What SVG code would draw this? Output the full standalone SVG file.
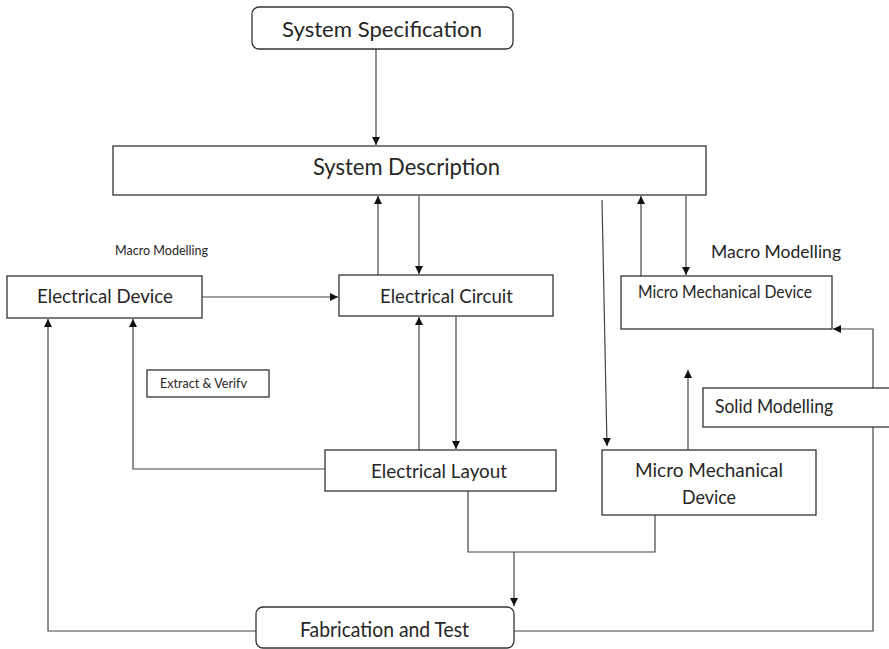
<svg xmlns="http://www.w3.org/2000/svg" width="889" height="649" viewBox="0 0 889 649">
<defs>
<marker id="ah" markerUnits="userSpaceOnUse" markerWidth="9" markerHeight="9" refX="8" refY="4" orient="auto">
<path d="M0,0 L8,4 L0,8 z" fill="#111"/>
</marker>
<style>
.box{fill:#fff;stroke:#333;stroke-width:1.3}
.ln{fill:none;stroke:#444;stroke-width:1.2}
.ar{fill:none;stroke:#444;stroke-width:1.2;marker-end:url(#ah)}
text{font-family:Lato,"Liberation Sans",sans-serif;fill:#262626}
</style>
</defs>
<rect x="0" y="0" width="889" height="649" fill="#fff"/>
<g id="connectors">
<path class="ar" d="M376,49 V145"/>
<path class="ar" d="M378,275 V196"/>
<path class="ar" d="M419,196 V274"/>
<path class="ar" d="M602,200 L607,446"/>
<path class="ar" d="M641,276 V196"/>
<path class="ar" d="M686,196 V275"/>
<path class="ar" d="M202,297 H338"/>
<path class="ar" d="M419,450 V317"/>
<path class="ar" d="M456,317 V449"/>
<path class="ar" d="M688,450 V370"/>
<path class="ar" d="M325,469 H133 V319"/>
<path class="ar" d="M256,631 H48 V319"/>
<path class="ar" d="M514,631 H873 V329 H833"/>
<path class="ln" d="M468,491 V552 H655 V515"/>
<path class="ar" d="M514,552 V606"/>
</g>
<g id="system-specification">
<rect class="box" x="252" y="7" width="261" height="42" rx="7"/>
<text x="282" y="37" font-size="22" textLength="200" lengthAdjust="spacingAndGlyphs">System Specification</text>
</g>
<g id="system-description">
<rect class="box" x="113" y="146" width="593" height="49"/>
<text x="313" y="175" font-size="24" textLength="187" lengthAdjust="spacingAndGlyphs">System Description</text>
</g>
<g id="macro-modelling-left">
<text x="115" y="255" font-size="12.5" textLength="93" lengthAdjust="spacingAndGlyphs">Macro Modelling</text>
</g>
<g id="electrical-device">
<rect class="box" x="7" y="276" width="195" height="42"/>
<text x="37" y="303" font-size="20" textLength="136" lengthAdjust="spacingAndGlyphs">Electrical Device</text>
</g>
<g id="electrical-circuit">
<rect class="box" x="339" y="275" width="214" height="41"/>
<text x="380" y="303" font-size="20" textLength="133" lengthAdjust="spacingAndGlyphs">Electrical Circuit</text>
</g>
<g id="macro-modelling-right">
<text x="711" y="258" font-size="17.5" textLength="130" lengthAdjust="spacingAndGlyphs">Macro Modelling</text>
</g>
<g id="micro-mechanical-device-upper">
<rect class="box" x="621" y="276" width="211" height="53"/>
<text x="638" y="298" font-size="17" textLength="174" lengthAdjust="spacingAndGlyphs">Micro Mechanical Device</text>
</g>
<g id="extract-verify">
<rect class="box" x="147" y="370" width="122" height="27"/>
<text x="160" y="388" font-size="13" textLength="87" lengthAdjust="spacingAndGlyphs">Extract &amp; Verifv</text>
</g>
<g id="solid-modelling">
<rect class="box" x="703" y="388" width="195" height="39"/>
<text x="715" y="413" font-size="19" textLength="118" lengthAdjust="spacingAndGlyphs">Solid Modelling</text>
</g>
<g id="electrical-layout">
<rect class="box" x="325" y="450" width="231" height="41"/>
<text x="371" y="478" font-size="20" textLength="136" lengthAdjust="spacingAndGlyphs">Electrical Layout</text>
</g>
<g id="micro-mechanical-device-lower">
<rect class="box" x="602" y="450" width="214" height="65"/>
<text x="635" y="477" font-size="20" textLength="148" lengthAdjust="spacingAndGlyphs">Micro Mechanical</text>
<text x="682" y="504" font-size="20" textLength="54" lengthAdjust="spacingAndGlyphs">Device</text>
</g>
<g id="fabrication-and-test">
<rect class="box" x="256" y="607" width="258" height="41" rx="7"/>
<text x="300" y="637" font-size="20.5" textLength="169" lengthAdjust="spacingAndGlyphs">Fabrication and Test</text>
</g>
</svg>
